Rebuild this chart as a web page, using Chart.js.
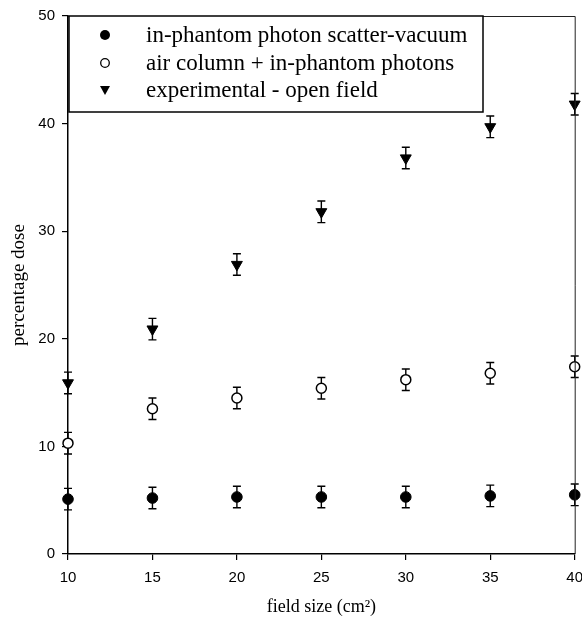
<!DOCTYPE html>
<html>
<head>
<meta charset="utf-8">
<script src="https://cdn.jsdelivr.net/npm/chart.js@4/dist/chart.umd.min.js"></script>
<style>
    html, body { margin: 0; padding: 0; background: #fff; }
    #wrap { width: 582px; height: 620px; position: relative; }
</style>
</head>
<body>
<div id="wrap"><canvas id="chartCanvas"></canvas></div>
<script>
const fieldSize = [10, 15, 20, 25, 30, 35, 40]
const xTicks = [10, 15, 20, 25, 30, 35, 40]
const yTicks = [0, 10, 20, 30, 40, 50]

const scatterVacuum = [5.1, 5.2, 5.3, 5.3, 5.3, 5.4, 5.5]
const scatterVacuumErr = [1, 1, 1, 1, 1, 1, 1]
const airColumn = [10.3, 13.5, 14.5, 15.4, 16.2, 16.8, 17.4]
const airColumnErr = [1, 1, 1, 1, 1, 1, 1]
const experimental = [15.9, 20.9, 26.9, 31.8, 36.8, 39.7, 41.8]
const experimentalErr = [1, 1, 1, 1, 1, 1, 1]

const toPoints = ys => fieldSize.map((x, i) => ({x: x, y: ys[i]}))

const sansFont = '"Liberation Sans", Arial, sans-serif'
const serifFont = '"Liberation Serif", "Times New Roman", serif'

// error bars, drawn under the markers
const errorBars = {
    id: "errorBars",
    beforeDatasetsDraw(chart){
        const ctx = chart.ctx
        const xs = chart.scales.x, ys = chart.scales.y
        ctx.save()
        ctx.strokeStyle = "#000"
        ctx.lineWidth = 1.4
        chart.data.datasets.forEach(ds => {
            ds.data.forEach((p, i) => {
                const e = ds.errors[i]
                const px = xs.getPixelForValue(p.x)
                const top = ys.getPixelForValue(p.y + e)
                const bot = ys.getPixelForValue(p.y - e)
                ctx.beginPath()
                ctx.moveTo(px, top); ctx.lineTo(px, bot)
                ctx.moveTo(px - 4, top); ctx.lineTo(px + 4, top)
                ctx.moveTo(px - 4, bot); ctx.lineTo(px + 4, bot)
                ctx.stroke()
            })
        })
        ctx.restore()
    }
}

// top/right frame and the boxed legend inside the plot
const frameLegend = {
    id: "frameLegend",
    afterDraw(chart){
        const ctx = chart.ctx
        const a = chart.chartArea
        ctx.save()
        ctx.strokeStyle = "#222"
        ctx.lineWidth = 1
        ctx.beginPath()
        ctx.moveTo(a.left, a.top + 0.5)
        ctx.lineTo(a.right + 0.5, a.top + 0.5)
        ctx.lineTo(a.right + 0.5, a.bottom)
        ctx.stroke()

        const bx = a.left + 1, by = a.top, bw = 414, bh = 96
        ctx.fillStyle = "#fff"
        ctx.fillRect(bx, by, bw, bh)
        ctx.strokeStyle = "#000"
        ctx.lineWidth = 1.5
        ctx.strokeRect(bx, by, bw, bh)

        const rows = [19, 47, 74]
        ctx.font = "23px " + serifFont
        ctx.textBaseline = "middle"
        ctx.textAlign = "left"
        chart.data.datasets.forEach((ds, i) => {
            const cy = by + rows[i], cx = bx + 36
            ctx.fillStyle = "#000"
            ctx.strokeStyle = "#000"
            ctx.lineWidth = 1.3
            ctx.beginPath()
            if(ds.pointStyle === "triangle"){
                ctx.moveTo(cx - 5, cy - 4)
                ctx.lineTo(cx + 5, cy - 4)
                ctx.lineTo(cx, cy + 5)
                ctx.closePath()
                ctx.fill()
            }else if(ds.pointBackgroundColor === "#fff"){
                ctx.arc(cx, cy, 4.3, 0, Math.PI * 2)
                ctx.stroke()
            }else{
                ctx.arc(cx, cy, 5, 0, Math.PI * 2)
                ctx.fill()
            }
            ctx.fillText(ds.label, bx + 77, cy + 1)
        })
        ctx.restore()
    }
}

const chart = new Chart(document.querySelector("#chartCanvas"), {
    type: "scatter",
    data: {
        datasets: [
            {
                label: "in-phantom photon scatter-vacuum",
                data: toPoints(scatterVacuum),
                errors: scatterVacuumErr,
                pointStyle: "circle",
                pointRadius: 5.3,
                pointBackgroundColor: "#000",
                pointBorderColor: "#000",
                pointBorderWidth: 1,
                clip: false
            },
            {
                label: "air column + in-phantom photons",
                data: toPoints(airColumn),
                errors: airColumnErr,
                pointStyle: "circle",
                pointRadius: 5,
                pointBackgroundColor: "#fff",
                pointBorderColor: "#000",
                pointBorderWidth: 1.5,
                clip: false
            },
            {
                label: "experimental - open field",
                data: toPoints(experimental),
                errors: experimentalErr,
                pointStyle: "triangle",
                pointRotation: 180,
                pointRadius: 6.3,
                pointBackgroundColor: "#000",
                pointBorderColor: "#000",
                pointBorderWidth: 1,
                clip: false
            }
        ]
    },
    options: {
        responsive: true,
        maintainAspectRatio: false,
        animation: false,
        events: [],
        layout: { padding: { top: 16, right: 6, left: 0, bottom: 0 } },
        plugins: {
            legend: { display: false },
            tooltip: { enabled: false }
        },
        scales: {
            x: {
                type: "linear",
                min: 10,
                max: 40,
                afterBuildTicks: s => { s.ticks = xTicks.map(v => ({value: v})) },
                afterFit: s => { s.height = 66; s.paddingLeft = 0; s.paddingRight = 0 },
                grid: { drawOnChartArea: false, tickLength: 6, color: "#000", lineWidth: 1.2 },
                border: { color: "#000", width: 1.5 },
                ticks: { color: "#000", padding: 9, maxRotation: 0, font: { family: sansFont, size: 15 } },
                title: { display: true, text: "field size (cm²)", color: "#000", padding: { top: 0, bottom: 2 }, font: { family: serifFont, size: 18 } }
            },
            y: {
                min: 0,
                max: 50,
                afterBuildTicks: s => { s.ticks = yTicks.map(v => ({value: v})) },
                afterFit: s => { s.width = 68; s.paddingTop = 0; s.paddingBottom = 0 },
                grid: { drawOnChartArea: false, tickLength: 6, color: "#000", lineWidth: 1.2 },
                border: { color: "#000", width: 1.5 },
                ticks: { color: "#000", padding: 7, font: { family: sansFont, size: 15 } },
                title: { display: true, text: "percentage dose", color: "#000", padding: { top: 8, bottom: 0 }, font: { family: serifFont, size: 19 } }
            }
        }
    },
    plugins: [errorBars, frameLegend]
})
</script>
</body>
</html>
